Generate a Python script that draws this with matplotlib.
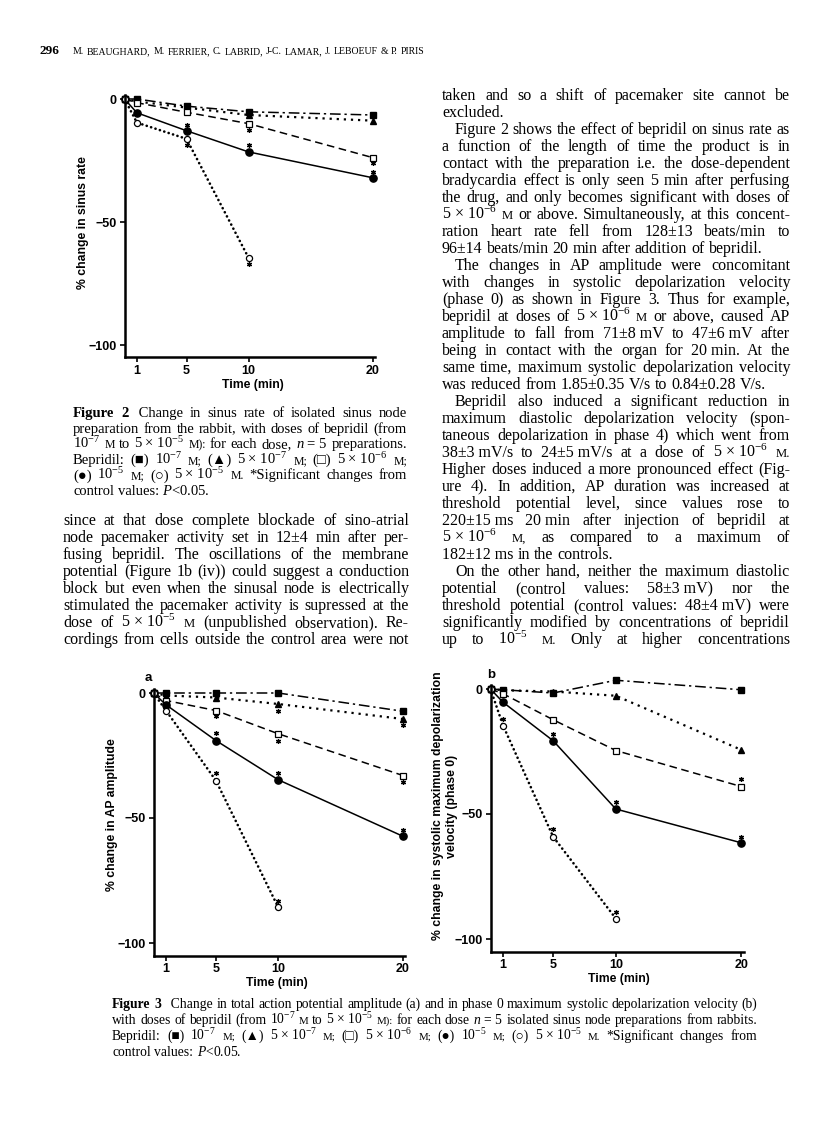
import matplotlib
matplotlib.use("Agg")
import matplotlib.pyplot as plt

plt.rcParams['mathtext.fontset'] = 'custom'
plt.rcParams['mathtext.rm'] = 'Liberation Serif'
plt.rcParams['mathtext.it'] = 'Liberation Serif:italic'
plt.rcParams['mathtext.bf'] = 'Liberation Serif:bold'

W, H = 816, 1142
SERIF = ['Liberation Serif', 'DejaVu Sans']
SANS = ['Liberation Sans', 'DejaVu Sans']

# ---- data ----
times = [0, 1, 5, 10, 20]
times_hi = [0, 1, 5, 10]          # 5x10-5 M series stops at 10 min

# Figure 2: % change in sinus rate
sr_m7 = [0, 0.0, -2.9, -5.2, -6.5]
sr_5m7 = [0, -1.0, -3.5, -6.5, -8.8]
sr_5m6 = [0, -1.5, -5.4, -10.0, -23.8]
sr_m5 = [0, -5.6, -12.9, -21.5, -32.0]
sr_5m5 = [0, -9.6, -16.2, -64.5]
sr_star_t = [5, 5, 10, 10, 10, 20, 20]
sr_star_v = [-10.6, -18.8, -12.6, -18.8, -66.9, -26.0, -29.6]

# Figure 3a: % change in AP amplitude
ap_m7 = [0, 0.0, 0.0, 0.0, -7.3]
ap_5m7 = [0, -1.0, -1.8, -4.4, -10.4]
ap_5m6 = [0, -3.0, -7.0, -16.3, -33.0]
ap_m5 = [0, -4.7, -19.0, -34.7, -57.3]
ap_5m5 = [0, -7.0, -35.0, -85.7]
ap_star_t = [5, 5, 5, 10, 10, 10, 10, 20, 20, 20]
ap_star_v = [-9.3, -16.0, -32.0, -7.0, -19.3, -32.0, -83.2, -12.7, -35.7, -54.7]

# Figure 3b: % change in systolic max depolarization velocity
dv_m7 = [0, -0.3, -1.6, 3.5, -0.3]
dv_5m7 = [0, -0.5, -1.0, -2.7, -24.3]
dv_5m6 = [0, -1.9, -12.3, -24.6, -39.0]
dv_m5 = [0, -5.3, -20.7, -48.0, -61.5]
dv_5m5 = [0, -14.6, -59.1, -91.8]
dv_star_t = [1, 5, 5, 10, 10, 20, 20]
dv_star_v = [-12.0, -18.0, -56.0, -45.0, -89.0, -36.0, -59.0]

yticks = [0, -50, -100]
ytick_labels = ['0', '\u221250', '\u2212100']
xticks = [1, 5, 10, 20]

header_num = '296'
header_authors = 'M. BEAUGHARD, M. FERRIER, C. LABRID, J-C. LAMAR, J. LEBOEUF & P. PIRIS'

NB = '\u00a0'
def conc(a, e):
    if a:
        return a + NB + '×' + NB + '10$^{-' + e + '}$'
    return '10$^{-' + e + '}$'

cap2 = [
    "**Figure **2 " + NB + "Change in sinus rate of isolated sinus node",
    "preparation from the rabbit, with doses of bepridil (from",
    conc('', '7') + " ^M to " + conc('5', '5') + " ^M): for each dose, $\\mathit{n}$" + NB + "=" + NB + "5 preparations.",
    "Bepridil: (■) " + conc('', '7') + " ^M; (▲) " + conc('5', '7') + " ^M; (□) " + conc('5', '6') + " ^M;",
    "(●) " + conc('', '5') + " ^M; (○) " + conc('5', '5') + " ^M. *Significant changes from",
    "control values: $\\mathit{P}$<0.05.",
]

left_body = [
    "since at that dose complete blockade of sino-atrial",
    "node pacemaker activity set in 12±4 min after per-",
    "fusing bepridil. The oscillations of the membrane",
    "potential (Figure 1b (iv)) could suggest a conduction",
    "block but even when the sinusal node is electrically",
    "stimulated the pacemaker activity is supressed at the",
    "dose of " + conc('5', '5') + " ^M (unpublished observation). Re-",
    "cordings from cells outside the control area were not",
]

# (text, indented, justified)
right_body = [
    ("taken and so a shift of pacemaker site cannot be", False, True),
    ("excluded.", False, False),
    ("Figure 2 shows the effect of bepridil on sinus rate as", True, True),
    ("a function of the length of time the product is in", False, True),
    ("contact with the preparation i.e. the dose-dependent", False, True),
    ("bradycardia effect is only seen 5 min after perfusing", False, True),
    ("the drug, and only becomes significant with doses of", False, True),
    (conc('5', '6') + " ^M or above. Simultaneously, at this concent-", False, True),
    ("ration heart rate fell from 128±13 beats/min to", False, True),
    ("96±14 beats/min 20 min after addition of bepridil.", False, False),
    ("The changes in AP amplitude were concomitant", True, True),
    ("with changes in systolic depolarization velocity", False, True),
    ("(phase 0) as shown in Figure 3. Thus for example,", False, True),
    ("bepridil at doses of " + conc('5', '6') + " ^M or above, caused AP", False, True),
    ("amplitude to fall from 71±8" + NB + "mV to 47±6" + NB + "mV after", False, True),
    ("being in contact with the organ for 20" + NB + "min. At the", False, True),
    ("same time, maximum systolic depolarization velocity", False, True),
    ("was reduced from 1.85±0.35 V/s to 0.84±0.28 V/s.", False, False),
    ("Bepridil also induced a significant reduction in", True, True),
    ("maximum diastolic depolarization velocity (spon-", False, True),
    ("taneous depolarization in phase 4) which went from", False, True),
    ("38±3" + NB + "mV/s to 24±5" + NB + "mV/s at a dose of " + conc('5', '6') + " ^M.", False, True),
    ("Higher doses induced a more pronounced effect (Fig-", False, True),
    ("ure 4). In addition, AP duration was increased at", False, True),
    ("threshold potential level, since values rose to", False, True),
    ("220±15" + NB + "ms 20" + NB + "min after injection of bepridil at", False, True),
    (conc('5', '6') + " ^M, as compared to a maximum of", False, True),
    ("182±12" + NB + "ms in the controls.", False, False),
    ("On the other hand, neither the maximum diastolic", True, True),
    ("potential (control values: 58±3" + NB + "mV) nor the", False, True),
    ("threshold potential (control values: 48±4" + NB + "mV) were", False, True),
    ("significantly modified by concentrations of bepridil", False, True),
    ("up to " + conc('', '5') + " ^M. Only at higher concentrations", False, True),
]

cap3 = [
    "**Figure **3 " + NB + NB + "Change in total action potential amplitude (a) and in phase 0 maximum systolic depolarization velocity (b)",
    "with doses of bepridil (from " + conc('', '7') + " ^M to " + conc('5', '5') + " ^M): for each dose $\\mathit{n}$" + NB + "=" + NB + "5 isolated sinus node preparations from rabbits.",
    "Bepridil: (■) " + conc('', '7') + " ^M; (▲) " + conc('5', '7') + " ^M; (□) " + conc('5', '6') + " ^M; (●) " + conc('', '5') + " ^M; (○) " + conc('5', '5') + " ^M. *Significant changes from",
    "control values: $\\mathit{P}$<0.05.",
]

fig = plt.figure(figsize=(W / 100, H / 100), dpi=100)
renderer = fig.canvas.get_renderer()


def fx(x):
    return x / W


def fy(y):
    return 1 - y / H


def make_word(tok, size):
    weight = 'normal'
    s = size
    if tok.startswith('**'):
        tok = tok[2:]
        weight = 'bold'
    if tok.startswith('^'):
        tok = tok[1:]
        s = size * 0.8
    t = fig.text(0, 0, tok, fontsize=s, family=SERIF, weight=weight, va='baseline', ha='left')
    return t, t.get_window_extent(renderer=renderer).width


def natural_width(line, size):
    toks = [w for w in line.split(' ') if w != '']
    total = 0
    for tok in toks:
        t, w = make_word(tok, size)
        total += w
        t.remove()
    return total + size * 100 / 72 * 0.25 * (len(toks) - 1)


def fit_size(lines, x0, x1, indent=0, size0=10.0):
    worst = 0
    for item in lines:
        if isinstance(item, tuple):
            line, ind, _ = item
        else:
            line, ind = item, False
        avail = x1 - x0 - (indent if ind else 0)
        worst = max(worst, natural_width(line, size0) / avail)
    return size0 / worst * 0.995


def text_line(line, x0, x1, y, size, justify=True):
    toks = [w for w in line.split(' ') if w != '']
    words = [make_word(w, size) for w in toks]
    total = sum(w for _, w in words)
    space = size * 100 / 72 * 0.25
    if justify and len(words) > 1:
        gap = (x1 - x0 - total) / (len(words) - 1)
    else:
        gap = space
    x = x0
    for t, w in words:
        t.set_position((fx(x), fy(y)))
        x += w + gap


def text_block(lines, x0, x1, y0, dy, size, indent=0, last_plain=True):
    for i, item in enumerate(lines):
        if isinstance(item, tuple):
            line, ind, just = item
        else:
            line, ind, just = item, False, not (last_plain and i == len(lines) - 1)
        text_line(line, x0 + (indent if ind else 0), x1, y0 + i * dy, size, just)


# ---- header ----
fig.text(fx(39), fy(54), header_num, fontsize=9.5, family=SERIF, weight='bold', va='baseline')
hs = fit_size([header_authors], 73, 424)
text_line(header_authors, 73, 424, 54, hs, justify=True)

# ---- text columns ----
s_cap2 = fit_size(cap2[:-1], 73, 407)
text_block(cap2, 73, 407, 417, 15.6, s_cap2)
s_body = min(fit_size(left_body, 63, 409), fit_size(right_body, 442, 790, indent=13))
text_block(left_body, 63, 409, 525, 17.0, s_body, last_plain=False)
text_block(right_body, 442, 790, 100, 17.0, s_body, indent=13)
s_cap3 = fit_size(cap3[:-1], 112, 757)
text_block(cap3, 112, 757, 1008, 16.0, s_cap3)


# ---- charts ----
def axes_px(x0, ppm, y0, ppu, xmax=20.2, ymin=-105, ymax=1.5):
    left = x0
    right = x0 + xmax * ppm
    top = y0 - ymax * ppu
    bottom = y0 - ymin * ppu
    ax = fig.add_axes([fx(left), fy(bottom), (right - left) / W, (bottom - top) / H])
    ax.set_xlim(0, xmax)
    ax.set_ylim(ymin, ymax)
    return ax


def draw_panel(ax, s_m7, s_5m7, s_5m6, s_m5, s_5m5, st, sv):
    lw = 1.1
    ax.plot(times, s_m7, color='k', lw=lw, ls=(0, (7, 2.5, 1.5, 2.5)),
            marker='s', ms=4, mfc='k', mec='k', clip_on=False)
    ax.plot(times, s_5m7, color='k', lw=1.6, ls=(0, (1, 2.2)),
            marker='^', ms=4.5, mfc='k', mec='k', clip_on=False)
    ax.plot(times, s_5m6, color='k', lw=lw, ls=(0, (5, 3)),
            marker='s', ms=4.2, mfc='white', mec='k', mew=0.9, clip_on=False)
    ax.plot(times, s_m5, color='k', lw=lw, ls='-',
            marker='o', ms=5.2, mfc='k', mec='k', clip_on=False)
    ax.plot(times_hi, s_5m5, color='k', lw=1.9, ls=(0, (0.05, 1.7)), dash_capstyle='round',
            marker='o', ms=4.4, mfc='white', mec='k', mew=0.9, clip_on=False)
    ax.plot(st, sv, ls='none', marker=(6, 2, 0), ms=3.6, mew=0.9, color='k', clip_on=False)
    for sp in ['top', 'right']:
        ax.spines[sp].set_visible(False)
    for sp in ['left', 'bottom']:
        ax.spines[sp].set_linewidth(1.8)
    ax.set_yticks(yticks)
    ax.set_yticklabels(ytick_labels)
    ax.set_xticks(xticks)
    ax.set_xticklabels([str(t) for t in xticks])
    ax.tick_params(direction='out', length=3.5, width=1.2, pad=2)
    for lab in ax.get_xticklabels() + ax.get_yticklabels():
        lab.set_family(SANS)
        lab.set_fontsize(9)
        lab.set_weight('bold')
    ax.patch.set_alpha(0)


ax2 = axes_px(124.5, 12.4, 99, 2.46)
draw_panel(ax2, sr_m7, sr_5m7, sr_5m6, sr_m5, sr_5m5, sr_star_t, sr_star_v)
ax3a = axes_px(153.5, 12.47, 693, 2.5)
draw_panel(ax3a, ap_m7, ap_5m7, ap_5m6, ap_m5, ap_5m5, ap_star_t, ap_star_v)
ax3b = axes_px(490.5, 12.53, 689, 2.5)
draw_panel(ax3b, dv_m7, dv_5m7, dv_5m6, dv_m5, dv_5m5, dv_star_t, dv_star_v)

lab = dict(family=SANS, weight='bold', fontsize=8.8, ha='center', va='center')
fig.text(fx(83), fy(223), '% change in sinus rate', rotation=90, **lab)
fig.text(fx(253), fy(385), 'Time (min)', **lab)
fig.text(fx(112), fy(815), '% change in AP amplitude', rotation=90, **lab)
fig.text(fx(277), fy(983), 'Time (min)', **lab)
fig.text(fx(445), fy(806), '% change in systolic maximum depolarization\nvelocity (phase 0)',
         rotation=90, multialignment='center', linespacing=1.25, **lab)
fig.text(fx(619), fy(979), 'Time (min)', **lab)
fig.text(fx(148), fy(678), 'a', family=SANS, weight='bold', fontsize=9.5, ha='center', va='center')
fig.text(fx(491), fy(675), 'b', family=SANS, weight='bold', fontsize=9.5, ha='center', va='center')

fig.savefig('out.png', dpi=100)
